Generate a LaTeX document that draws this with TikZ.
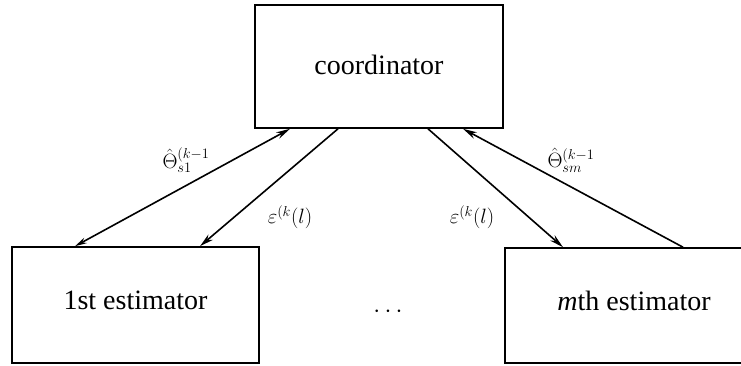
\documentclass[tikz,border=0pt]{standalone}
\usepackage{fontspec}
\setmainfont{Liberation Serif}
\usetikzlibrary{arrows.meta}
\begin{document}
\begin{tikzpicture}[x=1pt,y=-1pt,
  box/.style={draw, line width=1.6pt, rectangle, inner sep=0pt},
  boxtext/.style={font=\fontsize{28}{32}\selectfont, inner sep=0pt},
  arr/.style={line width=1.6pt, -{Stealth[length=14pt,width=7pt]}},
  lbl/.style={font=\fontsize{20}{24}\selectfont, inner sep=0pt}]
\useasboundingbox (0,0) rectangle (741,365);

% processing units
\node[box, minimum width=248pt, minimum height=123pt] (coord) at (379,66.5) {};
\node[box, minimum width=247pt, minimum height=116pt] (est1) at (135.5,305) {};
\node[box, minimum width=258pt, minimum height=115pt] (estm) at (634,305.5) {};
\node[boxtext] (coordtxt) at ([yshift=2pt]coord.center) {coordinator};
\node[boxtext] (est1txt) at ([yshift=5pt]est1.center) {1st estimator};
\node[boxtext] (estmtxt) at ([yshift=4.5pt]estm.center) {\textit{m}th estimator};
\node[font=\fontsize{30}{34}\selectfont, inner sep=0pt] (dots) at (388,312) {$\cdots$};

% exchanged quantities
\draw[arr, {Stealth[length=12pt,width=6pt]}-{Stealth[length=14pt,width=7pt]}]
  ([xshift=-60.5pt]est1.north) -- ([xshift=-89pt]coord.south);
\draw[arr] ([xshift=-41pt]coord.south) -- ([xshift=64.5pt]est1.north);
\draw[arr] ([xshift=49pt]coord.south) -- ([xshift=-71pt]estm.north);
\draw[arr] ([xshift=49pt]estm.north) -- ([xshift=84pt]coord.south);

% labels
\node[lbl] (l1) at (186,160) {$\hat{\Theta}^{(k-1}_{s1}$};
\node[lbl] (l2) at (290,217) {$\varepsilon^{(k}(l)$};
\node[lbl] (l3) at (472,217) {$\varepsilon^{(k}(l)$};
\node[lbl] (l4) at (571,160) {$\hat{\Theta}^{(k-1}_{sm}$};
\end{tikzpicture}
\end{document}
